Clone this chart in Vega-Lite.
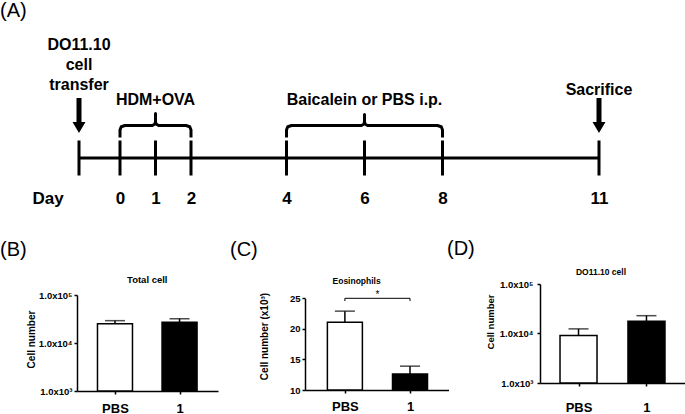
{
  "$schema": "https://vega.github.io/schema/vega-lite/v6.json",
  "padding": {"left": 0, "top": 1, "right": 0, "bottom": 0},
  "background": "white",
  "config": {
    "view": {"stroke": null},
    "font": "Liberation Sans",
    "axis": {"domainColor": "black", "tickColor": "black", "labelColor": "black", "titleColor": "black", "grid": false, "labelFont": "Liberation Sans", "titleFont": "Liberation Sans"},
    "title": {"font": "Liberation Sans", "fontSize": 20, "fontWeight": "normal", "anchor": "start", "frame": "group", "color": "black"}
  },
  "datasets": {
    "span": [{"day": -1, "day2": 11}],
    "days": [{"day": -1}, {"day": 0}, {"day": 1}, {"day": 2}, {"day": 4}, {"day": 6}, {"day": 8}, {"day": 11}],
    "arrows": [{"event": "transfer", "day": -1, "lvl": 4.25}, {"event": "sacrifice", "day": 11, "lvl": 4.25}],
    "notes": [
      {"t": "DO11.10", "day": -1, "lvl": 10.8},
      {"t": "cell", "day": -1, "lvl": 8.8},
      {"t": "transfer", "day": -1, "lvl": 6.8},
      {"t": "HDM+OVA", "day": 1, "lvl": 5.3},
      {"t": "Baicalein or PBS i.p.", "day": 6, "lvl": 5.35},
      {"t": "Sacrifice", "day": 11, "lvl": 6.3}
    ],
    "brackets": [
      {"b": 1, "i": 0, "day": 0, "lvl": 2.05}, {"b": 1, "i": 1, "day": 0, "lvl": 2.8}, {"b": 1, "i": 2, "day": 0.035, "lvl": 3.13}, {"b": 1, "i": 3, "day": 0.14, "lvl": 3.25}, {"b": 1, "i": 4, "day": 0.91, "lvl": 3.25}, {"b": 1, "i": 5, "day": 0.975, "lvl": 3.38}, {"b": 1, "i": 6, "day": 1, "lvl": 3.6}, {"b": 1, "i": 7, "day": 1, "lvl": 4.45}, {"b": 1, "i": 8, "day": 1, "lvl": 3.6}, {"b": 1, "i": 9, "day": 1.025, "lvl": 3.38}, {"b": 1, "i": 10, "day": 1.09, "lvl": 3.25}, {"b": 1, "i": 11, "day": 1.86, "lvl": 3.25}, {"b": 1, "i": 12, "day": 1.965, "lvl": 3.13}, {"b": 1, "i": 13, "day": 2, "lvl": 2.8}, {"b": 1, "i": 14, "day": 2, "lvl": 2.05},
      {"b": 2, "i": 0, "day": 4, "lvl": 2.05}, {"b": 2, "i": 1, "day": 4, "lvl": 2.8}, {"b": 2, "i": 2, "day": 4.032, "lvl": 3.13}, {"b": 2, "i": 3, "day": 4.13, "lvl": 3.25}, {"b": 2, "i": 4, "day": 5.92, "lvl": 3.25}, {"b": 2, "i": 5, "day": 5.978, "lvl": 3.38}, {"b": 2, "i": 6, "day": 6, "lvl": 3.6}, {"b": 2, "i": 7, "day": 6, "lvl": 4.35}, {"b": 2, "i": 8, "day": 6, "lvl": 3.6}, {"b": 2, "i": 9, "day": 6.022, "lvl": 3.38}, {"b": 2, "i": 10, "day": 6.08, "lvl": 3.25}, {"b": 2, "i": 11, "day": 7.87, "lvl": 3.25}, {"b": 2, "i": 12, "day": 7.968, "lvl": 3.13}, {"b": 2, "i": 13, "day": 8, "lvl": 2.8}, {"b": 2, "i": 14, "day": 8, "lvl": 2.05}
    ],
    "total": [{"group": "PBS", "pos": 0, "mean": 25200, "hi": 29200}, {"group": "1", "pos": 1, "mean": 27000, "hi": 32000}],
    "eos": [{"group": "PBS", "pos": 0, "mean": 21.1, "hi": 22.9}, {"group": "1", "pos": 1, "mean": 12.6, "hi": 13.9}],
    "do11": [{"group": "PBS", "pos": 0, "mean": 9100, "hi": 12400}, {"group": "1", "pos": 1, "mean": 17700, "hi": 22900}],
    "sig": [{"pos": 0, "end": 1, "mid": 0.5, "label": "*"}]
  },
  "bounds": "flush",
  "spacing": 126,
  "vconcat": [
    {
      "title": {"text": "(A)", "dx": -77, "offset": 7},
      "width": 608,
      "height": 130,
      "encoding": {
        "x": {"field": "day", "type": "quantitative", "scale": {"domain": [-1, 0, 2, 4, 8, 11], "range": [2, 43, 114, 209.5, 365.5, 522], "nice": false, "zero": false}, "axis": {"values": [0, 1, 2, 4, 6, 8, 11], "format": "d", "title": "Day", "titleX": -29.5, "titleY": 32, "titleAngle": 0, "titleAlign": "center", "titleBaseline": "top", "titleFontSize": 17, "titleFontWeight": "bold", "labelFontSize": 17, "labelFontWeight": "bold", "labelPadding": 32, "tickSize": 0, "ticks": false, "domain": false, "labelFlush": false, "labelOverlap": false}}
      },
      "layer": [
        {"data": {"name": "span"}, "mark": {"type": "rule", "strokeWidth": 3, "color": "black"}, "encoding": {"x2": {"field": "day2"}, "y": {"datum": 0, "type": "quantitative", "scale": {"domain": [0, 13], "nice": false, "zero": false}, "axis": null}}},
        {"data": {"name": "days"}, "mark": {"type": "rule", "strokeWidth": 3, "color": "black"}, "encoding": {"y": {"datum": -1.75, "type": "quantitative", "axis": null}, "y2": {"datum": 1.75}}},
        {"data": {"name": "brackets"}, "mark": {"type": "line", "strokeWidth": 3, "color": "black", "strokeJoin": "round"}, "encoding": {"y": {"field": "lvl", "type": "quantitative", "axis": null}, "detail": {"field": "b"}, "order": {"field": "i"}}},
        {"data": {"name": "arrows"}, "mark": {"type": "point", "shape": "M-0.143,-1L0.143,-1L0.143,0.371L0.371,0.371L0,1L-0.371,0.371L-0.143,0.371Z", "size": 1225, "filled": true, "color": "black", "opacity": 1, "strokeWidth": 0}, "encoding": {"y": {"field": "lvl", "type": "quantitative", "axis": null}}},
        {"data": {"name": "notes"}, "mark": {"type": "text", "fontSize": 16, "fontWeight": "bold", "baseline": "alphabetic", "align": "center", "color": "black"}, "encoding": {"y": {"field": "lvl", "type": "quantitative", "axis": null}, "text": {"field": "t"}}}
      ]
    },
    {
      "bounds": "flush",
      "spacing": 87,
      "hconcat": [
        {
          "title": {"text": "(B)", "dx": -77, "offset": 15},
          "width": 141,
          "height": 107,
          "data": {"name": "total"},
          "encoding": {
            "x": {"field": "pos", "type": "quantitative", "scale": {"domain": [-0.5108, 1.518], "nice": false, "zero": false}, "axis": {"values": [0, 1], "labelExpr": "datum.value < 0.5 ? 'PBS' : '1'", "title": null, "labelFontSize": 13, "labelFontWeight": "bold", "tickSize": 3, "labelPadding": 8, "domainWidth": 1.5, "tickWidth": 1.5}}
          },
          "layer": [
            {"mark": {"type": "rule", "strokeWidth": 1.5, "color": "black"}, "encoding": {"y": {"field": "mean", "type": "quantitative", "scale": {"type": "log", "domain": [1000, 100000], "range": [107, 11], "nice": false}, "axis": {"values": [1000, 10000, 100000], "tickCount": 10, "labelExpr": "datum.value > 50000 ? '1.0x10⁵' : datum.value > 5000 ? '1.0x10⁴' : '1.0x10³'", "title": "Cell number", "titleFontSize": 10, "titleFontWeight": "bold", "titleX": -46, "titleY": 55, "titleAngle": -90, "titleAlign": "center", "titleBaseline": "middle", "labelFontSize": 9.5, "labelFontWeight": "bold", "tickSize": 3, "labelPadding": 2, "domainWidth": 1.5, "tickWidth": 1.5}}, "y2": {"field": "hi"}}},
            {"mark": {"type": "tick", "orient": "horizontal", "size": 20, "thickness": 1.5, "color": "black"}, "encoding": {"y": {"field": "hi", "type": "quantitative"}}},
            {"mark": {"type": "bar", "orient": "vertical", "width": 35, "stroke": "black", "strokeWidth": 1.5}, "encoding": {"y": {"field": "mean", "type": "quantitative"}, "y2": {"datum": 1000}, "fill": {"field": "group", "type": "nominal", "scale": {"domain": ["PBS", "1"], "range": ["white", "black"]}, "legend": null}}},
            {"data": {"values": [{"name": "Total cell", "pos": 0.5, "v": 205000}]}, "mark": {"type": "text", "fontSize": 9.5, "fontWeight": "bold", "baseline": "middle", "align": "center", "color": "black"}, "encoding": {"y": {"field": "v", "type": "quantitative"}, "text": {"field": "name"}}}
          ]
        },
        {
          "title": {"text": "(C)", "dx": -75, "offset": 16.5},
          "width": 148,
          "height": 106,
          "data": {"name": "eos"},
          "encoding": {
            "x": {"field": "pos", "type": "quantitative", "scale": {"domain": [-0.5357, 1.5143], "range": [0, 143.5], "nice": false, "zero": false}, "axis": {"values": [0, 1], "labelExpr": "datum.value < 0.5 ? 'PBS' : '1'", "title": null, "labelFontSize": 13, "labelFontWeight": "bold", "tickSize": 3, "labelPadding": 7, "domainWidth": 1.5, "tickWidth": 1.5}}
          },
          "layer": [
            {"mark": {"type": "rule", "strokeWidth": 1.5, "color": "black"}, "encoding": {"y": {"field": "mean", "type": "quantitative", "scale": {"domain": [10, 25], "range": [106, 14.3], "nice": false, "zero": false}, "axis": {"values": [10, 15, 20, 25], "tickCount": 10, "title": "Cell number (x10³)", "titleFontSize": 10, "titleFontWeight": "bold", "titleX": -40.7, "titleY": 52, "titleAngle": -90, "titleAlign": "center", "titleBaseline": "middle", "labelFontSize": 9.5, "labelFontWeight": "bold", "tickSize": 3, "labelPadding": 2, "domainWidth": 1.5, "tickWidth": 1.5}}, "y2": {"field": "hi"}}},
            {"mark": {"type": "tick", "orient": "horizontal", "size": 20, "thickness": 1.5, "color": "black"}, "encoding": {"y": {"field": "hi", "type": "quantitative"}}},
            {"mark": {"type": "bar", "orient": "vertical", "width": 35, "stroke": "black", "strokeWidth": 1.5}, "encoding": {"y": {"field": "mean", "type": "quantitative"}, "y2": {"datum": 10}, "fill": {"field": "group", "type": "nominal", "scale": {"domain": ["PBS", "1"], "range": ["white", "black"]}, "legend": null}}},
            {"mark": {"type": "rule", "strokeWidth": 1, "color": "black"}, "encoding": {"y": {"datum": 25}, "y2": {"datum": 24.55}}},
            {"data": {"name": "sig"}, "mark": {"type": "rule", "strokeWidth": 1, "color": "black"}, "encoding": {"x2": {"field": "end"}, "y": {"datum": 25}}},
            {"data": {"name": "sig"}, "mark": {"type": "text", "fontSize": 10, "baseline": "alphabetic", "align": "center", "color": "black"}, "encoding": {"x": {"field": "mid", "type": "quantitative"}, "y": {"datum": 25.05}, "text": {"field": "label"}}},
            {"data": {"values": [{"name": "Eosinophils", "pos": 0.18, "v": 27.85}]}, "mark": {"type": "text", "fontSize": 8.5, "fontWeight": "bold", "baseline": "middle", "align": "center", "color": "black"}, "encoding": {"y": {"field": "v", "type": "quantitative"}, "text": {"field": "name"}}}
          ]
        },
        {
          "title": {"text": "(D)", "dx": -93, "offset": 9},
          "width": 145,
          "height": 99,
          "data": {"name": "do11"},
          "encoding": {
            "x": {"field": "pos", "type": "quantitative", "scale": {"domain": [-0.4932, 1.4932], "nice": false, "zero": false}, "axis": {"values": [0, 1], "labelExpr": "datum.value < 0.5 ? 'PBS' : '1'", "title": null, "labelFontSize": 13, "labelFontWeight": "bold", "tickSize": 3, "labelPadding": 15, "domainWidth": 1.5, "tickWidth": 1.5}}
          },
          "layer": [
            {"mark": {"type": "rule", "strokeWidth": 1.5, "color": "black"}, "encoding": {"y": {"field": "mean", "type": "quantitative", "scale": {"type": "log", "domain": [1000, 100000], "nice": false}, "axis": {"values": [1000, 10000, 100000], "tickCount": 10, "labelExpr": "datum.value > 50000 ? '1.0x10⁵' : datum.value > 5000 ? '1.0x10⁴' : '1.0x10³'", "title": "Cell number", "titleFontSize": 9.5, "titleFontWeight": "bold", "titleX": -50, "titleY": 37.5, "titleAngle": -90, "titleAlign": "center", "titleBaseline": "middle", "labelFontSize": 9.5, "labelFontWeight": "bold", "tickSize": 3, "labelPadding": 4, "domainWidth": 1.5, "tickWidth": 1.5}}, "y2": {"field": "hi"}}},
            {"mark": {"type": "tick", "orient": "horizontal", "size": 20, "thickness": 1.5, "color": "black"}, "encoding": {"y": {"field": "hi", "type": "quantitative"}}},
            {"mark": {"type": "bar", "orient": "vertical", "width": 37, "stroke": "black", "strokeWidth": 1.5}, "encoding": {"y": {"field": "mean", "type": "quantitative"}, "y2": {"datum": 1000}, "fill": {"field": "group", "type": "nominal", "scale": {"domain": ["PBS", "1"], "range": ["white", "black"]}, "legend": null}}},
            {"data": {"values": [{"name": "DO11.10 cell", "pos": 0.33, "v": 178000}]}, "mark": {"type": "text", "fontSize": 8.5, "fontWeight": "bold", "baseline": "middle", "align": "center", "color": "black"}, "encoding": {"y": {"field": "v", "type": "quantitative"}, "text": {"field": "name"}}}
          ]
        }
      ]
    }
  ]
}
